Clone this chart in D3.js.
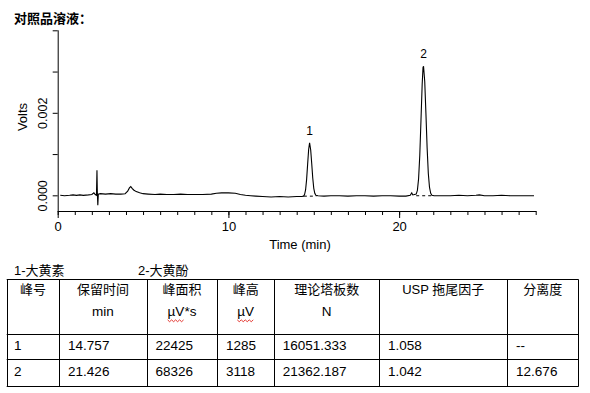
<!DOCTYPE html>
<html>
<head>
<meta charset="utf-8">
<script src="https://cdn.jsdelivr.net/npm/d3@7"></script>
<style>
  body { margin: 0; background: #fff; }
  text { font-family: "Liberation Sans", Arial, "Noto Sans CJK SC", sans-serif; fill: #000; }
</style>
</head>
<body>
<div id="chart"></div>
<script>
// chromatogram trace: [time (min), signal (V)]
var trace = [
  [0.15, 0.00000], [0.4, -0.00001], [0.7, 0.00000], [0.9, 0.00001], [1.1, 0.00000],
  [1.3, 0.00001], [1.5, 0.00000], [1.8, 0.00001], [2.0, 0.00002], [2.12, 0.00006],
  [2.2, 0.00002], [2.27, 0.00000], [2.3, 0.00061], [2.32, 0.00010], [2.35, -0.00024],
  [2.38, 0.00003], [2.5, 0.00004], [2.8, 0.00003], [3.1, 0.00004], [3.4, 0.00003],
  [3.7, 0.00003], [3.95, 0.00004], [4.1, 0.00010], [4.2, 0.00018], [4.28, 0.00021],
  [4.36, 0.00017], [4.45, 0.00013], [4.6, 0.00009], [4.8, 0.00006], [5.0, 0.00004],
  [5.3, 0.00003], [5.7, 0.00002], [6.0, 0.00003], [6.4, 0.00002], [6.8, 0.00002],
  [7.2, 0.00003], [7.6, 0.00002], [8.0, 0.00002], [8.5, 0.00002], [9.0, 0.00003],
  [9.3, 0.00005], [9.6, 0.00006], [10.0, 0.00006], [10.4, 0.00005], [10.7, 0.00002],
  [11.0, 0.00000], [11.3, -0.00001], [11.6, -0.00002], [12.0, -0.00003], [12.5, -0.00004],
  [13.0, -0.00003], [13.5, -0.00004], [14.0, -0.00003], [14.3, -0.00003],
  [14.40, -0.00002], [14.46, 0.00002], [14.52, 0.00013], [14.58, 0.00038], [14.64, 0.00075],
  [14.70, 0.00111], [14.755, 0.00127], [14.82, 0.00110], [14.88, 0.00077], [14.94, 0.00042],
  [15.00, 0.00017], [15.06, 0.00005], [15.12, 0.00000], [15.25, -0.00001], [15.6, -0.00002],
  [16.0, -0.00001], [16.5, -0.00001], [17.0, -0.00002], [17.5, -0.00001], [18.0, -0.00001],
  [18.5, -0.00002], [19.0, -0.00001], [19.5, -0.00001], [20.0, -0.00002], [20.4, -0.00002],
  [20.65, 0.00000], [20.74, 0.00006], [20.8, 0.00001], [20.9, 0.00002], [21.00, 0.00003],
  [21.07, 0.00012], [21.14, 0.00040], [21.21, 0.00097], [21.28, 0.00182], [21.35, 0.00269],
  [21.40, 0.00310], [21.43, 0.00313], [21.50, 0.00276], [21.57, 0.00198], [21.64, 0.00115],
  [21.71, 0.00053], [21.78, 0.00019], [21.85, 0.00005], [21.92, 0.00000], [22.05, -0.00001],
  [22.5, -0.00001], [23.0, -0.00001], [23.5, 0.00000], [24.0, -0.00001], [24.5, 0.00000],
  [24.7, 0.00001], [25.0, -0.00001], [25.5, -0.00001], [26.0, 0.00000], [26.5, -0.00001],
  [27.0, -0.00001], [27.5, -0.00001], [27.9, -0.00001]
];

// labelled peaks and their integration baselines
var peakLabels = ["1", "2"];
var peakTimes = [14.757, 21.43];
var peakTops = [0.00127, 0.00313];
var peakBaselines = [[14.42, 15.15, -0.00002], [21.0, 21.95, -0.00001]];

var xTicksMajor = [0, 10, 20];
var yTicksLabelled = [0, 0.002];
var yTicksAll = [0, 0.001, 0.002, 0.003, 0.004];

// table
var legendItems = ["1-大黄素", "2-大黄酚"];
var headers = ["峰号", "保留时间", "峰面积", "峰高", "理论塔板数", "USP 拖尾因子", "分离度"];
var units = ["", "min", "µV*s", "µV", "N", "", ""];
var rows = [
  ["1", "14.757", "22425", "1285", "16051.333", "1.058", "--"],
  ["2", "21.426", "68326", "3118", "21362.187", "1.042", "12.676"]
];

var svg = d3.select("#chart").append("svg")
  .attr("width", 590).attr("height", 393);

// title
svg.append("text")
  .attr("x", 14).attr("y", 18).attr("dy", "0.35em")
  .style("font-size", "13px").style("font-weight", "bold")
  .text("对照品溶液：");

var x = d3.scaleLinear().domain([0, 28]).range([57.7, 535.7]);
var y = d3.scaleLinear().domain([-0.00038, 0.004]).range([211, 30.3]);

var plot = svg.append("g");

// x axis: minor ticks every minute, longer major ticks every 10
plot.append("g")
  .attr("transform", "translate(0,211)")
  .call(d3.axisBottom(x).tickValues(d3.range(0, 29, 1)).tickSize(4).tickFormat(""))
  .call(g => g.select(".domain").remove());
var xMajor = plot.append("g")
  .attr("transform", "translate(0,211)")
  .call(d3.axisBottom(x).tickValues(xTicksMajor).tickSize(7).tickSizeOuter(0).tickPadding(4));
xMajor.selectAll("text").style("font-size", "13px").style("font-family", "Liberation Sans, Arial");
xMajor.select(".domain").attr("d", "M" + x(0) + ",0.5H" + (x(28) + 0.5));

// y axis
var yAx = plot.append("g")
  .attr("transform", "translate(57.7,0)")
  .call(d3.axisLeft(y).tickValues(yTicksAll).tickSize(5).tickSizeOuter(0)
    .tickFormat(d => yTicksLabelled.indexOf(d) >= 0 ? d3.format(".3f")(d) : ""));
yAx.selectAll(".tick text")
  .style("font-size", "12.5px").style("font-family", "Liberation Sans, Arial")
  .attr("text-anchor", "middle")
  .attr("x", 0).attr("dy", 0)
  .attr("transform", "translate(-15,0) rotate(-90)")
  .attr("dominant-baseline", "central");
yAx.select(".domain").attr("d", "M0.5," + y(0.004) + "V" + 211);

// axis titles
svg.append("text")
  .attr("transform", "translate(22,117) rotate(-90)")
  .attr("text-anchor", "middle").attr("dy", "0.35em")
  .style("font-size", "13px")
  .text("Volts");
svg.append("text")
  .attr("x", 300).attr("y", 244).attr("dy", "0.35em")
  .attr("text-anchor", "middle")
  .style("font-size", "13px")
  .text("Time (min)");

// integration baselines
plot.selectAll(".pb").data(peakBaselines).enter().append("line")
  .attr("x1", d => x(d[0])).attr("x2", d => x(d[1]))
  .attr("y1", d => y(d[2])).attr("y2", d => y(d[2]))
  .attr("stroke", "#000").attr("stroke-width", 1)
  .attr("stroke-dasharray", "3,3");

// trace
var line = d3.line().x(d => x(d[0])).y(d => y(d[1]));
plot.append("path")
  .datum(trace)
  .attr("d", line)
  .attr("fill", "none")
  .attr("stroke", "#000")
  .attr("stroke-width", 1.1);

// peak labels
plot.selectAll(".plab").data(peakLabels).enter().append("text")
  .attr("x", (d, i) => x(peakTimes[i]))
  .attr("y", (d, i) => y(peakTops[i]) - 12)
  .attr("dy", "0.35em")
  .attr("text-anchor", "middle")
  .style("font-size", "12px")
  .text(d => d);

// legend line above table
svg.selectAll(".leg").data(legendItems).enter().append("text")
  .attr("x", (d, i) => i === 0 ? 14 : 138)
  .attr("y", 270).attr("dy", "0.35em")
  .style("font-size", "13px")
  .text(d => d);

// table grid
var colX = [6.7, 59.3, 146.7, 217.3, 274, 379.3, 507.3, 578.3];
var rowY = [279.3, 334, 359.3, 385.7];
var grid = svg.append("g").attr("stroke", "#000").attr("stroke-width", 1);
grid.selectAll(".h").data(rowY).enter().append("line")
  .attr("x1", colX[0]).attr("x2", colX[colX.length - 1])
  .attr("y1", d => Math.round(d) + 0.5).attr("y2", d => Math.round(d) + 0.5);
grid.selectAll(".v").data(colX).enter().append("line")
  .attr("y1", rowY[0]).attr("y2", rowY[rowY.length - 1] + 1)
  .attr("x1", d => Math.round(d) + 0.5).attr("x2", d => Math.round(d) + 0.5);

var centers = colX.slice(0, -1).map((c, i) => (c + colX[i + 1]) / 2);

svg.selectAll(".hd").data(headers).enter().append("text")
  .attr("x", (d, i) => centers[i]).attr("y", 289).attr("dy", "0.35em")
  .attr("text-anchor", "middle")
  .style("font-size", "13px")
  .text(d => d);

var unitText = svg.selectAll(".un").data(units).enter().append("text")
  .attr("x", (d, i) => centers[i]).attr("y", 311.7).attr("dy", "0.35em")
  .attr("text-anchor", "middle")
  .style("font-size", "13.5px")
  .text(d => d);

// red spell-check squiggles under "µV"
unitText.each(function(d) {
  if (d.indexOf("µV") !== 0) return;
  var bb = this.getBBox();
  var x0 = bb.x, x1 = bb.x + this.getSubStringLength(0, 2);
  var yy = 320.5, pts = [];
  for (var k = 0; x0 + k * 2 <= x1; k++) pts.push([x0 + k * 2, yy + (k % 2 ? 1.2 : -0.6)]);
  svg.append("path").attr("d", d3.line()(pts))
    .attr("fill", "none").attr("stroke", "#e0201a").attr("stroke-width", 0.9);
});

rows.forEach(function(r, ri) {
  svg.selectAll(".r" + ri).data(r).enter().append("text")
    .attr("x", (d, i) => colX[i] + (i === 0 ? 7.3 : 8.8))
    .attr("y", ri === 0 ? 345.7 : 371).attr("dy", "0.35em")
    .style("font-size", "13.5px")
    .text(d => d);
});
</script>
</body>
</html>
